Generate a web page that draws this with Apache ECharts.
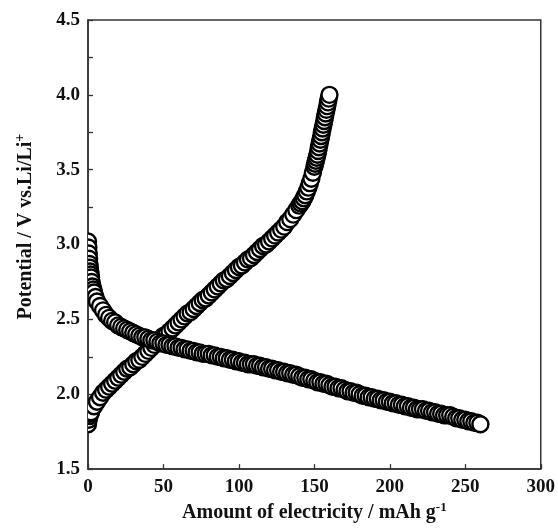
<!DOCTYPE html>
<html>
<head>
<meta charset="utf-8">
<script src="https://cdn.jsdelivr.net/npm/echarts@6/dist/echarts.min.js"></script>
<style>
html,body{margin:0;padding:0;background:#fff;}
#chart{width:558px;height:528px;}
</style>
</head>
<body>
<div id="chart"></div>
<script>
// Charge curve (potential rises)
var chargeX = [0,0.5,1,1.5,2,4,6,8,10,12,14,16,18,20,22,24,26,28,30,32,34,36,38,40,42,44,46,48,50,52,54,56,58,60,62,64,66,68,70,72,74,76,78,80,82,84,86,88,90,92,94,96,98,100,102,104,106,108,110,112,114,116,118,120,122,124,126,128,130,132,134,136,138,140,141,142,143,144,145,146,147,148,149,150,150.5,151,151.5,152,152.5,153,153.5,154,154.5,155,155.5,156,156.5,157,157.5,158,158.5,159,159.5,160];
var chargeY = [1.80,1.83,1.855,1.87,1.88,1.92,1.95,1.98,2.01,2.03,2.05,2.07,2.09,2.11,2.13,2.15,2.17,2.18,2.20,2.22,2.23,2.25,2.27,2.29,2.31,2.33,2.35,2.37,2.39,2.40,2.42,2.44,2.46,2.48,2.50,2.52,2.54,2.55,2.57,2.59,2.61,2.63,2.64,2.66,2.68,2.70,2.72,2.74,2.76,2.77,2.79,2.81,2.83,2.85,2.86,2.88,2.90,2.91,2.93,2.95,2.97,2.99,3.00,3.02,3.04,3.06,3.08,3.10,3.12,3.15,3.17,3.20,3.23,3.26,3.275,3.29,3.31,3.33,3.355,3.38,3.41,3.44,3.48,3.52,3.54,3.56,3.58,3.60,3.625,3.65,3.675,3.70,3.725,3.75,3.775,3.80,3.825,3.85,3.875,3.90,3.925,3.95,3.975,4.00];

// Discharge curve (potential falls)
var dischargeX = [0,0.25,0.5,0.75,1,1.25,1.5,1.75,2,2.5,3,3.5,4,5,6,8,10,12,14,16,18,20,22,24,26,28,30,32,34,36,38,40,42,44,46,48,50,52,54,56,58,60,62,64,66,68,70,72,74,76,78,80,82,84,86,88,90,92,94,96,98,100,102,104,106,108,110,112,114,116,118,120,122,124,126,128,130,132,134,136,138,140,142,144,146,148,150,152,154,156,158,160,162,164,166,168,170,172,174,176,178,180,182,184,186,188,190,192,194,196,198,200,202,204,206,208,210,212,214,216,218,220,222,224,226,228,230,232,234,236,238,240,242,244,246,248,250,252,254,256,258,260];
var dischargeY = [3.02,2.98,2.94,2.905,2.87,2.845,2.82,2.80,2.78,2.75,2.72,2.70,2.68,2.65,2.62,2.59,2.56,2.53,2.51,2.49,2.48,2.46,2.45,2.44,2.43,2.42,2.41,2.40,2.39,2.38,2.38,2.37,2.36,2.36,2.35,2.34,2.34,2.33,2.33,2.32,2.32,2.31,2.31,2.30,2.30,2.29,2.29,2.28,2.28,2.27,2.27,2.27,2.26,2.26,2.25,2.25,2.24,2.24,2.23,2.23,2.22,2.22,2.21,2.21,2.20,2.20,2.20,2.19,2.19,2.18,2.18,2.17,2.17,2.16,2.16,2.15,2.15,2.14,2.14,2.13,2.13,2.12,2.11,2.11,2.10,2.10,2.09,2.08,2.08,2.07,2.07,2.06,2.05,2.05,2.04,2.04,2.03,2.02,2.02,2.01,2.01,2.00,1.99,1.99,1.98,1.98,1.97,1.97,1.96,1.96,1.95,1.95,1.94,1.94,1.93,1.93,1.92,1.92,1.91,1.91,1.90,1.90,1.90,1.89,1.89,1.88,1.88,1.87,1.87,1.86,1.86,1.86,1.85,1.84,1.84,1.83,1.83,1.82,1.82,1.81,1.81,1.80];

var xTicks = [0,50,100,150,200,250,300];
var yTicks = [1.5,2.0,2.5,3.0,3.5,4.0,4.5];

function pairs(xs, ys){ var out=[]; for(var i=0;i<xs.length;i++){ out.push([xs[i], ys[i]]); } return out; }

var FONT = '"Liberation Serif", "Times New Roman", serif';
function renderCircle(params, api){
  var p = api.coord([api.value(0), api.value(1)]);
  return {type:'circle', shape:{cx:p[0], cy:p[1], r:8}, style:{fill:'#ffffff', stroke:'#000000', lineWidth:2.4}};
}
var chart = echarts.init(document.getElementById('chart'), null, {renderer:'canvas'});
chart.setOption({
  animation:false,
  backgroundColor:'#ffffff',
  grid:{left:88, right:13, top:20, bottom:52, show:true, borderColor:'#333', borderWidth:1.5, backgroundColor:'transparent'},
  xAxis:{
    type:'value', min:0, max:300, interval:50,
    axisLine:{show:true, lineStyle:{color:'#333', width:1.5}},
    axisTick:{show:true, inside:true, length:5, lineStyle:{color:'#333', width:1.3}},
    splitLine:{show:false},
    axisLabel:{color:'#111', fontFamily:FONT, fontWeight:'bold', fontSize:19, margin:8,
      formatter:function(v){ return xTicks.indexOf(v)>=0 ? String(v) : ''; }},
    name:'{t|Amount of electricity / mAh g}{s|-1}',
    nameLocation:'middle', nameGap:31,
    nameTextStyle:{rich:{
      t:{fontFamily:FONT, fontWeight:'bold', fontSize:20, color:'#111'},
      s:{fontFamily:FONT, fontWeight:'bold', fontSize:13, color:'#111', padding:[0,0,11,0]}
    }}
  },
  yAxis:{
    type:'value', min:1.5, max:4.5, interval:0.25,
    axisLine:{show:true, lineStyle:{color:'#333', width:1.5}},
    axisTick:{show:true, inside:true, length:5, lineStyle:{color:'#333', width:1.3}},
    splitLine:{show:false},
    axisLabel:{color:'#111', fontFamily:FONT, fontWeight:'bold', fontSize:19, margin:8,
      formatter:function(v){ for(var i=0;i<yTicks.length;i++){ if(Math.abs(yTicks[i]-v)<1e-6) return yTicks[i].toFixed(1);} return ''; }},
    name:'{t|Potential / V vs.Li/Li}{s|+}',
    nameLocation:'middle', nameGap:49, nameRotate:90,
    nameTextStyle:{padding:[0,0,0,36], rich:{
      t:{fontFamily:FONT, fontWeight:'bold', fontSize:20, color:'#111'},
      s:{fontFamily:FONT, fontWeight:'bold', fontSize:14, color:'#111', padding:[0,0,12,0]}
    }}
  },
  series:[
    {type:'custom', name:'charge', data:pairs(chargeX, chargeY), renderItem:renderCircle, clip:true, silent:true},
    {type:'custom', name:'discharge', data:pairs(dischargeX, dischargeY), renderItem:renderCircle, clip:true, silent:true}
  ]
});
</script>
</body>
</html>
